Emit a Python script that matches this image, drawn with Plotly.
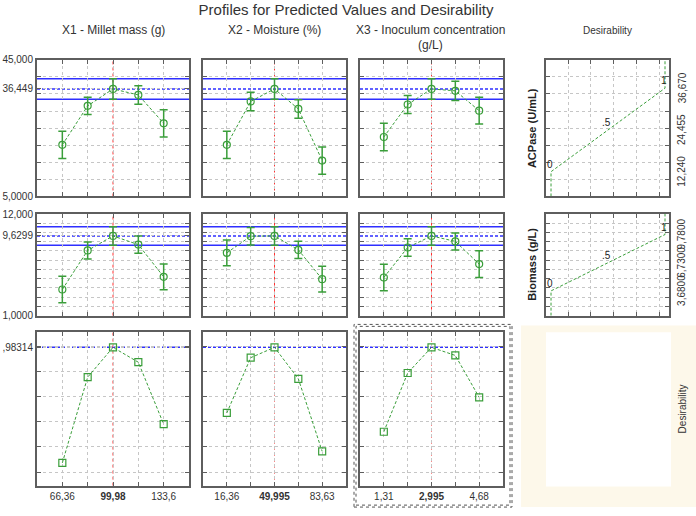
import plotly.graph_objects as go

W, H = 696, 516

# ---------------- data ----------------
factor_titles = ["X1 - Millet mass (g)", "X2 - Moisture (%)", "X3 - Inoculum concentration"]
x1_levels = [66.36, 83.17, 99.98, 116.79, 133.6]
x2_levels = [16.36, 33.1775, 49.995, 66.8125, 83.63]
x3_levels = [1.31, 2.1525, 2.995, 3.8375, 4.68]
x_tick_text = [["66,36", "", "<b>99,98</b>", "", "133,6"],
               ["16,36", "", "<b>49,995</b>", "", "83,63"],
               ["1,31", "", "<b>2,995</b>", "", "4,68"]]

acpase_pred = [[20.1, 31.5, 36.449, 34.7, 26.4],
               [20.1, 32.8, 36.449, 30.6, 15.5],
               [22.4, 31.9, 36.449, 35.9, 30.1]]
acpase_err = [[4.0, 2.5, 3.0, 2.7, 4.0],
              [4.0, 2.7, 3.0, 2.7, 4.0],
              [4.0, 2.6, 3.0, 2.8, 3.9]]
acpase_current = 36.449
acpase_ci = [33.45, 39.45]

biomass_pred = [[3.83, 8.06, 9.6299, 8.69, 5.2],
                [7.8, 9.6, 9.6299, 8.12, 4.95],
                [5.13, 8.38, 9.6299, 9.04, 6.58]]
biomass_err = [[1.43, 0.92, 1.0, 0.93, 1.4],
               [1.4, 0.95, 1.0, 0.93, 1.4],
               [1.43, 0.95, 1.0, 0.92, 1.45]]
biomass_current = 9.6299
biomass_ci = [8.63, 10.63]

desirability = [[0.523, 0.8645, 0.98314, 0.924, 0.677],
                [0.722, 0.942, 0.98314, 0.858, 0.569],
                [0.647, 0.881, 0.98314, 0.951, 0.784]]
desir_current = 0.98314

# desirability functions (response low -> d=0, high -> d=1)
acpase_fn = dict(low=12.24, mid=24.455, high=36.67, labels=["12,240", "24,455", "36,670"])
biomass_fn = dict(low=3.68, mid=6.73, high=9.78, labels=["3,6800", "6,7300", "9,7800"])
d_points = [0, 0.5, 1]
d_labels = ["0", ".5", "1"]

# ---------------- layout geometry (pixels) ----------------
cols = [(37, 189), (203, 346), (360, 503)]
col4 = (546, 669)
rows = [(55, 195), (213, 317), (334, 491)]

GREEN = "#3a9e3a"
BLUE = "#2f2fff"
TXT = "#333333"
FONT = "Arial, Liberation Sans, sans-serif"


def xdom(a, b):
    return [a / W, b / W]


def ydom(top, bottom):
    return [1 - bottom / H, 1 - top / H]


def names(k):
    s = "" if k == 1 else str(k)
    return "xaxis" + s, "yaxis" + s, "x" + s, "y" + s


AX = dict(showline=True, linecolor="#5e5e5e", linewidth=2, mirror="ticks",
          ticks="inside", ticklen=4, tickcolor="#5e5e5e", tickwidth=1,
          showgrid=True, gridcolor="#c6c6c6", griddash="dot", gridwidth=1,
          zeroline=False, fixedrange=True,
          tickfont=dict(size=10, color=TXT, family=FONT))

levels = [x1_levels, x2_levels, x3_levels]
row_ranges = [[5, 45], [1, 12], [0.43258, 1.04345]]
row_grids = [[5, 10, 15, 20, 25, 30, 35, 40, 45],
             [1, 2, 3, 4, 5, 6, 7, 8, 9, 10, 11, 12],
             [0.4866, 0.5866, 0.6866, 0.7866, 0.8866, 0.9866]]
row_labels = [{5: "5,0000", 45: "45,000", acpase_current: "36,449"},
              {1: "1,0000", 12: "12,000", biomass_current: "9,6299"},
              {desir_current: ",98314"}]

fig = go.Figure()
layout = {}
shapes = []
annotations = []

for r in range(3):
    for c in range(3):
        k = r * 3 + c + 1
        xa, ya, xr, yr = names(k)
        lv = levels[c]
        step = lv[1] - lv[0]
        xcfg = dict(AX, domain=xdom(*cols[c]), range=[lv[0] - step, lv[-1] + step],
                    tickvals=lv, anchor=yr)
        if r == 2:
            xcfg.update(ticktext=x_tick_text[c], showticklabels=True)
        else:
            xcfg.update(showticklabels=False)
        ycfg = dict(AX, domain=ydom(*rows[r]), range=row_ranges[r], anchor=xr)
        if c == 0:
            tv = row_grids[r] + [v for v in row_labels[r] if v not in row_grids[r]]
            tt = [row_labels[r].get(v, "") for v in tv]
            ycfg.update(tickvals=tv, ticktext=tt, showticklabels=True)
        else:
            ycfg.update(tickvals=row_grids[r], showticklabels=False)
        layout[xa] = xcfg
        layout[ya] = ycfg

        # reference lines
        if r == 0:
            cur, ci = acpase_current, acpase_ci
        elif r == 1:
            cur, ci = biomass_current, biomass_ci
        else:
            cur, ci = desir_current, None
        if ci:
            for v in ci:
                shapes.append(dict(type="line", xref=xr + " domain", yref=yr, x0=0, x1=1,
                                   y0=v, y1=v, line=dict(color=BLUE, width=1.5), layer="below"))
        shapes.append(dict(type="line", xref=xr + " domain", yref=yr, x0=0, x1=1,
                           y0=cur, y1=cur, line=dict(color=BLUE, width=1.5, dash="3px,2px"),
                           layer="below"))
        shapes.append(dict(type="line", xref=xr, yref=yr + " domain", x0=lv[2], x1=lv[2],
                           y0=0, y1=1, line=dict(color="#ff3030", width=1, dash="dot"),
                           layer="below"))

        if r == 0:
            fig.add_trace(go.Scatter(x=lv, y=acpase_pred[c], xaxis=xr, yaxis=yr, mode="lines+markers",
                                     line=dict(color=GREEN, width=1, dash="3px,2px"),
                                     marker=dict(symbol="circle-open", size=7, color=GREEN,
                                                 line=dict(width=1.2, color=GREEN)),
                                     error_y=dict(type="data", array=acpase_err[c], color=GREEN,
                                                  thickness=1.5, width=4),
                                     showlegend=False))
        elif r == 1:
            fig.add_trace(go.Scatter(x=lv, y=biomass_pred[c], xaxis=xr, yaxis=yr, mode="lines+markers",
                                     line=dict(color=GREEN, width=1, dash="3px,2px"),
                                     marker=dict(symbol="circle-open", size=7, color=GREEN,
                                                 line=dict(width=1.2, color=GREEN)),
                                     error_y=dict(type="data", array=biomass_err[c], color=GREEN,
                                                  thickness=1.5, width=4),
                                     showlegend=False))
        else:
            fig.add_trace(go.Scatter(x=lv, y=desirability[c], xaxis=xr, yaxis=yr, mode="lines+markers",
                                     line=dict(color=GREEN, width=1, dash="3px,2px"),
                                     marker=dict(symbol="square-open", size=7, color=GREEN,
                                                 line=dict(width=1.2, color=GREEN)),
                                     showlegend=False))

# ---------------- desirability function panels ----------------
fn_list = [acpase_fn, biomass_fn]
side_titles = ["<b>ACPase (U/mL)</b>", "<b>Biomass (g/L)</b>"]
for i in range(2):
    k = 10 + i
    xa, ya, xr, yr = names(k)
    fn = fn_list[i]
    layout[xa] = dict(AX, domain=xdom(*col4), range=[-0.044, 1.035],
                      tickvals=[0.15, 0.35, 0.55, 0.75, 0.95], showticklabels=False, anchor=yr)
    layout[ya] = dict(AX, domain=ydom(*rows[i]), range=row_ranges[i],
                      tickvals=row_grids[i], showticklabels=False, anchor=xr)
    ylo, yhi = row_ranges[i]
    fig.add_trace(go.Scatter(x=[0, 0, 1, 1], y=[ylo, fn["low"], fn["high"], yhi],
                             xaxis=xr, yaxis=yr, mode="lines",
                             line=dict(color=GREEN, width=1, dash="3px,2px"), showlegend=False))
    resp = [fn["low"], fn["mid"], fn["high"]]
    for d, lab, rv in zip(d_points, d_labels, resp):
        annotations.append(dict(x=d, y=rv, xref=xr, yref=yr, text=lab, showarrow=False,
                                xanchor="center", yanchor="bottom", xshift=-1.5, yshift=0,
                                font=dict(size=10, color="#222", family=FONT)))
    for rv, lab in zip(resp, fn["labels"]):
        annotations.append(dict(x=682 / W, y=rv, xref="paper", yref=yr, text=lab, showarrow=False,
                                textangle=-90, xanchor="center", yanchor="middle",
                                font=dict(size=10, color=TXT, family=FONT)))
    annotations.append(dict(x=532 / W, y=0.5, xref="paper", yref=yr + " domain", text=side_titles[i],
                            showarrow=False, textangle=-90, xanchor="center", yanchor="middle",
                            font=dict(size=11, color="#222", family=FONT)))

# ---------------- headers ----------------
header_x = [113, 274, 431]
for t, hx in zip(factor_titles, header_x):
    annotations.append(dict(x=hx / W, y=1 - 25 / H, xref="paper", yref="paper", text=t,
                            showarrow=False, xanchor="center", yanchor="middle",
                            font=dict(size=12, color=TXT, family=FONT)))
annotations.append(dict(x=431 / W, y=1 - 40 / H, xref="paper", yref="paper", text="(g/L)",
                        showarrow=False, xanchor="center", yanchor="middle",
                        font=dict(size=12, color=TXT, family=FONT)))
annotations.append(dict(x=607 / W, y=1 - 25 / H, xref="paper", yref="paper", text="Desirability",
                        showarrow=False, xanchor="center", yanchor="middle",
                        font=dict(size=10, color=TXT, family=FONT)))

# bottom-right desirability box
shapes.append(dict(type="rect", xref="paper", yref="paper", x0=521 / W, x1=1,
                   y0=1 - 513 / H, y1=1 - 327 / H, fillcolor="#fdf8ea",
                   line=dict(width=0), layer="below"))
shapes.append(dict(type="rect", xref="paper", yref="paper", x0=546 / W, x1=671 / W,
                   y0=1 - 492 / H, y1=1 - 334 / H, fillcolor="white",
                   line=dict(width=0), layer="below"))
annotations.append(dict(x=682 / W, y=1 - 413 / H, xref="paper", yref="paper", text="Desirability",
                        showarrow=False, textangle=-90, xanchor="center", yanchor="middle",
                        font=dict(size=10, color=TXT, family=FONT)))

# dashed selection box around X3 desirability panel
shapes.append(dict(type="rect", xref="paper", yref="paper", x0=354 / W, x1=512 / W,
                   y0=1 - 513 / H, y1=1 - 326 / H, line=dict(color="#555", width=1, dash="dot")))
shapes.append(dict(type="rect", xref="paper", yref="paper", x0=356 / W, x1=510 / W,
                   y0=1 - 511 / H, y1=1 - 328 / H, line=dict(color="#555", width=1, dash="dot")))

fig.update_layout(
    width=W, height=H,
    margin=dict(l=0, r=0, t=0, b=0),
    paper_bgcolor="white", plot_bgcolor="white",
    font=dict(family=FONT, color=TXT),
    title=dict(text="Profiles for Predicted Values and Desirability", x=346 / W, y=1 - 10 / H,
               xanchor="center", yanchor="middle", font=dict(size=15, color=TXT, family=FONT)),
    shapes=shapes, annotations=annotations, showlegend=False,
    **layout,
)

fig.write_html("out.html")
